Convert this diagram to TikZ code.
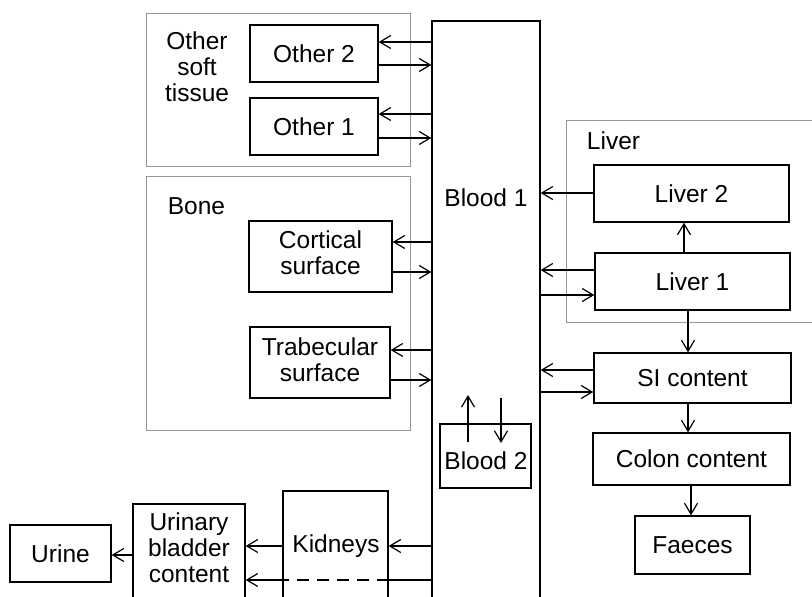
\documentclass[tikz,border=0pt]{standalone}
\usepackage{fontspec}
\setmainfont{Liberation Sans}
\usetikzlibrary{arrows.meta}
\definecolor{grpline}{RGB}{150,150,150}
\newcommand\lblfont{\fontsize{24.5}{26}\selectfont}
\begin{document}
\begin{tikzpicture}[x=1pt,y=-1pt,
  box/.style={draw=black,line width=1.3pt,rectangle,inner sep=0pt,align=center,font=\lblfont},
  grpbox/.style={draw=grpline,line width=1pt,rectangle,inner sep=0pt},
  lbl/.style={inner sep=0pt,align=center,font=\lblfont},
  arr/.style={line width=1.2pt,-{Straight Barb[length=11pt,width=13pt]}},
  link/.style={line width=1.2pt}
]
\useasboundingbox (0,0) rectangle (812,597);
\fill[white] (0,0) rectangle (812,597);
\clip (0,0) rectangle (812,597);

% compartment groups
\node[grpbox,minimum width=264,minimum height=153] (softgrp) at (278,89.5) {};
\node[grpbox,minimum width=264,minimum height=254] (bonegrp) at (278,303) {};
\node[grpbox,minimum width=274,minimum height=202] (livergrp) at (703,221) {};
\node[lbl] (softtxt) at (197,67) {Other\\soft\\tissue};
\node[lbl] (bonetxt) at (196.5,206) {Bone};
\node[lbl] (livertxt) at (613.5,141) {Liver};

% blood
\node[box,minimum width=108,minimum height=640] (blood1) at (486,341) {};
\node[lbl] (b1txt) at (486,198) {Blood 1};
\node[box,minimum width=91,minimum height=64] (blood2) at (485.5,456) {};
\node[lbl] (b2txt) at (486,461) {Blood 2};

% soft tissue and bone
\node[box,minimum width=128,minimum height=57] (other2) at (314,53.5) {Other 2};
\node[box,minimum width=128,minimum height=57] (other1) at (314,126.5) {Other 1};
\node[box,minimum width=143,minimum height=71,text depth=8pt] (cortical) at (320.5,256.5) {Cortical\\surface};
\node[box,minimum width=140,minimum height=71,text depth=6pt] (trabecular) at (320,362.5) {Trabecular\\surface};

% liver and gut
\node[box,minimum width=195,minimum height=57] (liver2) at (691.5,193.5) {Liver 2};
\node[box,minimum width=195,minimum height=57] (liver1) at (692.5,281.5) {Liver 1};
\node[box,minimum width=197,minimum height=50] (si) at (692.5,378) {SI content};
\node[box,minimum width=197,minimum height=52] (colon) at (691.5,459) {Colon content};
\node[box,minimum width=115,minimum height=58] (faeces) at (692.5,545) {Faeces};

% urinary path
\node[box,minimum width=105,minimum height=149] (kidneys) at (335.5,565.5) {};
\node[lbl] (kidtxt) at (336,546) {Kidneys};
\node[box,minimum width=112,minimum height=136] (bladder) at (189,572) {};
\node[lbl] (bladtxt) at (189,548) {Urinary\\bladder\\content};
\node[box,minimum width=101,minimum height=57] (urine) at (60.5,553.5) {Urine};

% exchange with soft tissue
\draw[arr] (blood1.west |- 0,42) -- (other2.east |- 0,42);
\draw[arr] (other2.east |- 0,65) -- (blood1.west |- 0,65);
\draw[arr] (blood1.west |- 0,114) -- (other1.east |- 0,114);
\draw[arr] (other1.east |- 0,138) -- (blood1.west |- 0,138);

% exchange with bone
\draw[arr] (blood1.west |- 0,242) -- (cortical.east |- 0,242);
\draw[arr] (cortical.east |- 0,272) -- (blood1.west |- 0,272);
\draw[arr] (blood1.west |- 0,350) -- (trabecular.east |- 0,350);
\draw[arr] (trabecular.east |- 0,380) -- (blood1.west |- 0,380);

% liver
\draw[arr] (liver2.west |- 0,193) -- (blood1.east |- 0,193);
\draw[arr] (liver1.west |- 0,270) -- (blood1.east |- 0,270);
\draw[arr] (blood1.east |- 0,295) -- (liver1.west |- 0,295);
\draw[arr] (liver1.north -| 684,0) -- (liver2.south -| 684,0);
\draw[arr] (liver1.south -| 688,0) -- (si.north -| 688,0);

% gut
\draw[arr] (si.west |- 0,370) -- (blood1.east |- 0,370);
\draw[arr] (blood1.east |- 0,392) -- (si.west |- 0,392);
\draw[arr] (si.south -| 688,0) -- (colon.north -| 688,0);
\draw[arr] (colon.south -| 691,0) -- (faeces.north -| 691,0);

% blood 1 <-> blood 2
\coordinate (b2upS) at (468,442);
\coordinate (b2upE) at (468,395);
\coordinate (b2dnS) at (501,398);
\coordinate (b2dnE) at (501,443);
\draw[arr] (b2upS) -- (b2upE);
\draw[arr] (b2dnS) -- (b2dnE);

% urinary excretion
\draw[arr] (blood1.west |- 0,546) -- (kidneys.east |- 0,546);
\draw[arr] (kidneys.west |- 0,546) -- (bladder.east |- 0,546);
\draw[arr] (bladder.west |- 0,555) -- (urine.east |- 0,555);
\draw[link] (blood1.west |- 0,580) -- (kidneys.east |- 0,580);
\draw[link,dash pattern=on 12pt off 8pt] (kidneys.east |- 0,580) -- (kidneys.west |- 0,580);
\draw[arr] (kidneys.west |- 0,580) -- (bladder.east |- 0,580);
\end{tikzpicture}
\end{document}
